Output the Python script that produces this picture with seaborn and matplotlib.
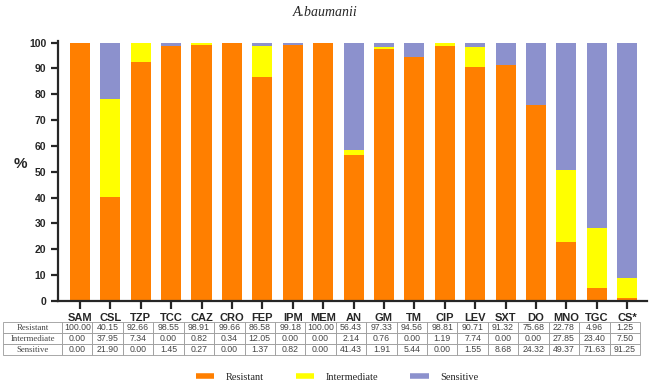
import numpy as np
import pandas as pd
import matplotlib
matplotlib.use('Agg')
import matplotlib.pyplot as plt
from matplotlib.lines import Line2D
import seaborn as sns

drugs = ['SAM', 'CSL', 'TZP', 'TCC', 'CAZ', 'CRO', 'FEP', 'IPM', 'MEM', 'AN',
         'GM', 'TM', 'CIP', 'LEV', 'SXT', 'DO', 'MNO', 'TGC', 'CS*']
resistant = [100.00, 40.15, 92.66, 98.55, 98.91, 99.66, 86.58, 99.18, 100.00, 56.43,
             97.33, 94.56, 98.81, 90.71, 91.32, 75.68, 22.78, 4.96, 1.25]
intermediate = [0.00, 37.95, 7.34, 0.00, 0.82, 0.34, 12.05, 0.00, 0.00, 2.14,
                0.76, 0.00, 1.19, 7.74, 0.00, 0.00, 27.85, 23.40, 7.50]
sensitive = [0.00, 21.90, 0.00, 1.45, 0.27, 0.00, 1.37, 0.82, 0.00, 41.43,
             1.91, 5.44, 0.00, 1.55, 8.68, 24.32, 49.37, 71.63, 91.25]

c_res = '#FF7F00'
c_int = '#FFFF00'
c_sen = '#8C91CD'

df = pd.DataFrame({'drug': drugs, 'R': resistant, 'I': intermediate, 'S': sensitive})
df['RI'] = df['R'] + df['I']
df['RIS'] = df['RI'] + df['S']

sns.set_style('ticks')
fig = plt.figure(figsize=(6.53, 3.89), dpi=100)
ax = fig.add_axes([0.0888, 0.2262, 0.9020, 0.6684])

# stacked bars: draw totals from the top down
for col, c in [('RIS', c_sen), ('RI', c_int), ('R', c_res)]:
    sns.barplot(data=df, x='drug', y=col, color=c, width=0.66, saturation=1,
                linewidth=0, ax=ax)

ax.set_xlim(-0.72, 18.65)
ax.set_ylim(0, 100.6)
ax.set_yticks(range(0, 101, 10))
ax.set_xlabel('')
ax.set_ylabel('%', fontsize=11, fontweight='bold', rotation=0,
              family='Liberation Sans')
ax.yaxis.set_label_coords(-0.064, 0.50)
sns.despine(ax=ax)
for s in ['left', 'bottom']:
    ax.spines[s].set_linewidth(1.6)
ax.tick_params(axis='both', width=1.6, length=5, direction='out')
ax.tick_params(axis='x', length=6, pad=2.5)
for lab in ax.get_xticklabels():
    lab.set_fontfamily('Liberation Sans')
    lab.set_fontweight('bold')
    lab.set_fontsize(8)
for lab in ax.get_yticklabels():
    lab.set_fontfamily('Liberation Sans')
    lab.set_fontweight('bold')
    lab.set_fontsize(7.5)

fig.text(0.498, 0.968, 'A.baumanii', ha='center', va='center', fontsize=10,
         style='italic', family='Liberation Serif')

# data table under the axis
rows = [['Resistant'] + [f'{v:.2f}' for v in resistant],
        ['Intermediate'] + [f'{v:.2f}' for v in intermediate],
        ['Sensitive'] + [f'{v:.2f}' for v in sensitive]]
col_w = [59] + [30.4] * len(drugs)
tbl = ax.table(cellText=rows, colWidths=col_w, cellLoc='center',
               bbox=[-0.0934, -0.2077, 1.0815, 0.1269])
tbl.auto_set_font_size(False)
for (r, c), cell in tbl.get_celld().items():
    cell.set_edgecolor('#9a9a9a')
    cell.set_linewidth(0.6)
    cell.get_text().set_fontsize(6.3)
    cell.get_text().set_color('#444444')
    if c == 0:
        cell.get_text().set_fontfamily('Liberation Serif')
    else:
        cell.get_text().set_fontfamily('Liberation Sans')

handles = [Line2D([0], [0], color=c, lw=4, solid_capstyle='butt')
           for c in (c_res, c_int, c_sen)]
fig.legend(handles, ['Resistant', 'Intermediate', 'Sensitive'], loc='center',
           bbox_to_anchor=(0.516, 0.031), ncol=3, frameon=False, handlelength=1.8,
           handletextpad=1.05, columnspacing=3.1,
           prop={'family': 'Liberation Serif', 'size': 7.5})

fig.savefig('out.png', dpi=100)
